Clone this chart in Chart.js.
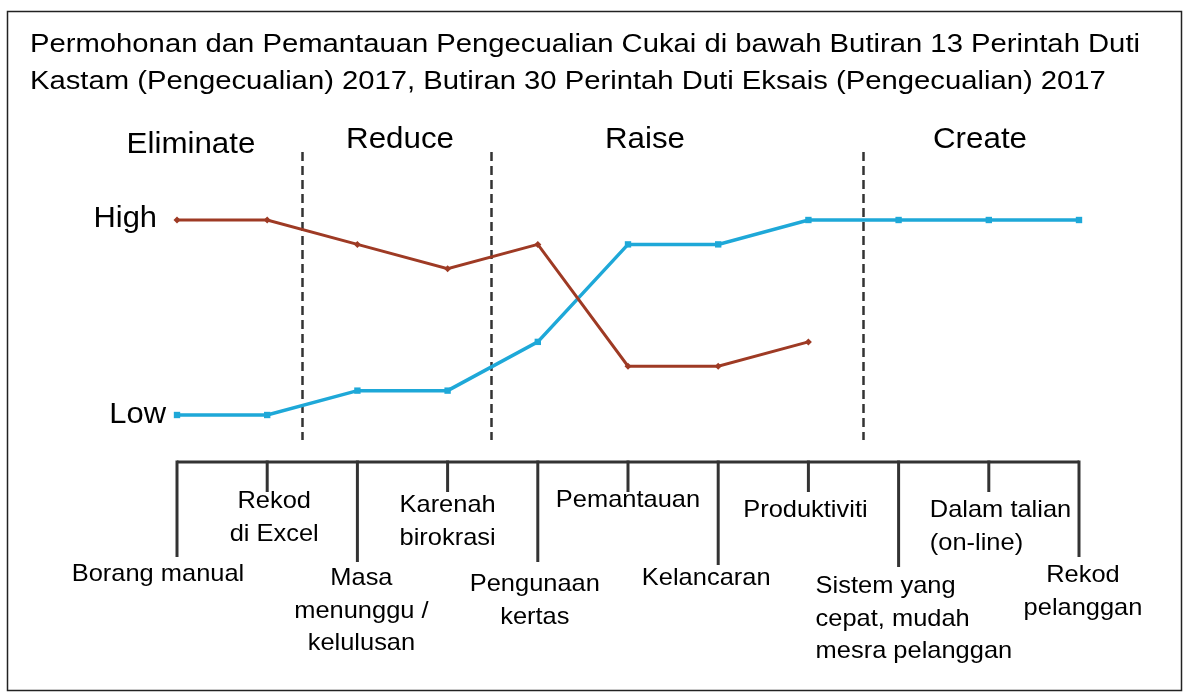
<!DOCTYPE html>
<html>
<head>
<meta charset="utf-8">
<style>
  html, body { margin: 0; padding: 0; background: #fff; }
  #wrap { position: relative; width: 1189px; height: 700px; }
  canvas { display: block; }
</style>
<script src="https://cdn.jsdelivr.net/npm/chart.js@4/dist/chart.umd.min.js"></script>
</head>
<body>
<div id="wrap"><canvas id="c" width="1189" height="700"></canvas></div>
<script>
const titleLines = [
  "Permohonan dan Pemantauan Pengecualian Cukai di bawah Butiran 13 Perintah Duti",
  "Kastam (Pengecualian) 2017, Butiran 30 Perintah Duti Eksais (Pengecualian) 2017"
];
const categories = [
  ["Borang manual"],
  ["Rekod", "di Excel"],
  ["Masa", "menunggu /", "kelulusan"],
  ["Karenah", "birokrasi"],
  ["Pengunaan", "kertas"],
  ["Pemantauan"],
  ["Kelancaran"],
  ["Produktiviti"],
  ["Sistem yang", "cepat, mudah", "mesra pelanggan"],
  ["Dalam talian", "(on-line)"],
  ["Rekod", "pelanggan"]
];
const blueValues = [0, 0, 1, 1, 3, 7, 7, 8, 8, 8, 8];
const redValues  = [8, 8, 7, 6, 7, 2, 2, 3, null, null, null];
const sectionNames = ["Eliminate", "Reduce", "Raise", "Create"];
const sectionDividers = [1.39, 3.48, 7.6];
const yTickLabels = ["Low", "High"];

const FONT = '"Liberation Sans", Arial, sans-serif';
const SX = 1.06;

function txt(ctx, s, x, y, align, sx) {
  ctx.save();
  ctx.translate(x, y);
  ctx.scale(sx, 1);
  ctx.textAlign = align;
  ctx.fillText(s, 0, 0);
  ctx.restore();
}

const overlay = {
  id: 'overlay',
  beforeDatasetsDraw(chart) {
    const ctx = chart.ctx;
    const x = chart.scales.x, y = chart.scales.y;
    const px = v => { const i = Math.floor(v); const f = v - i;
      const a = x.getPixelForValue(i); const b = x.getPixelForValue(Math.min(i + 1, categories.length - 1));
      return a + f * (b - a); };
    ctx.save();
    // border
    ctx.strokeStyle = '#222'; ctx.lineWidth = 1.5;
    ctx.strokeRect(7.5, 11.5, 1174, 679);
    // title
    ctx.fillStyle = '#000';
    ctx.textBaseline = 'alphabetic';
    ctx.font = '26.5px ' + FONT;
    const w1 = ctx.measureText(titleLines[0]).width;
    const tsx = 1110 / w1;
    txt(ctx, titleLines[0], 30, 52, 'left', tsx);
    txt(ctx, titleLines[1], 30, 89, 'left', tsx);
    // section labels
    ctx.font = '29px ' + FONT;
    const secX = [191, 400, 645, 980];
    const secY = [153, 148, 148, 148];
    sectionNames.forEach((s, i) => txt(ctx, s, secX[i], secY[i], 'center', 1.08));
    // y labels
    ctx.font = '30px ' + FONT;
    txt(ctx, yTickLabels[1], 157, y.getPixelForValue(8) + 7, 'right', 1.03);
    txt(ctx, yTickLabels[0], 166, y.getPixelForValue(0) + 8, 'right', 1.03);
    // dashed dividers
    ctx.strokeStyle = '#333'; ctx.lineWidth = 2.5; ctx.setLineDash([9, 5]);
    sectionDividers.forEach(d => {
      const xx = Math.round(px(d)) + 0.5;
      ctx.beginPath(); ctx.moveTo(xx, 152); ctx.lineTo(xx, 440); ctx.stroke();
    });
    ctx.setLineDash([]);
    // bottom bracket axis
    const axisY = 462;
    ctx.strokeStyle = '#333'; ctx.lineWidth = 3;
    ctx.beginPath();
    ctx.moveTo(x.getPixelForValue(0), axisY);
    ctx.lineTo(x.getPixelForValue(categories.length - 1), axisY);
    ctx.stroke();
    const longEnd = [557, 0, 562, 0, 562, 0, 565, 0, 567, 0, 557];
    categories.forEach((c, i) => {
      const xx = x.getPixelForValue(i);
      const end = (i % 2 === 0) ? longEnd[i] : 492;
      ctx.beginPath(); ctx.moveTo(xx, axisY - 1.5); ctx.lineTo(xx, end); ctx.stroke();
    });
    // category labels
    ctx.font = '24px ' + FONT;
    ctx.fillStyle = '#000';
    const lab = [
      {dx: -19, y: 581, a: 'center'},
      {dx: 7, y: 508, a: 'center'},
      {dx: 4, y: 585, a: 'center'},
      {dx: 0, y: 512, a: 'center'},
      {dx: -3, y: 591, a: 'center'},
      {dx: 0, y: 507, a: 'center'},
      {dx: -12, y: 585, a: 'center'},
      {dx: -3, y: 517, a: 'center'},
      {dx: -83, y: 593, a: 'left'},
      {dx: -59, y: 517, a: 'left'},
      {dx: 4, y: 582, a: 'center'}
    ];
    categories.forEach((c, i) => {
      const L = lab[i];
      c.forEach((line, k) => txt(ctx, line, x.getPixelForValue(i) + L.dx, L.y + k * 32.5, L.a, SX));
    });
    ctx.restore();
  }
};

new Chart(document.getElementById('c'), {
  type: 'line',
  data: {
    labels: categories.map(c => c.join(' ')),
    datasets: [
      {
        label: 'Red',
        data: redValues,
        borderColor: '#9e3a24',
        backgroundColor: '#9e3a24',
        borderWidth: 3,
        pointStyle: 'rectRot',
        pointRadius: 3.5,
        pointBorderWidth: 0,
        tension: 0,
        spanGaps: false,
        clip: false
      },
      {
        label: 'Blue',
        data: blueValues,
        borderColor: '#1ea8d8',
        backgroundColor: '#1ea8d8',
        borderWidth: 3.5,
        pointStyle: 'rect',
        pointRadius: 4.5,
        pointBorderWidth: 0,
        tension: 0,
        clip: false
      }
    ]
  },
  options: {
    responsive: false,
    animation: false,
    devicePixelRatio: 1,
    layout: { padding: { left: 177, right: 110, top: 220, bottom: 285 } },
    plugins: { legend: { display: false }, tooltip: { enabled: false }, title: { display: false } },
    scales: {
      x: { type: 'category', display: false, offset: false },
      y: { display: false, min: 0, max: 8 }
    }
  },
  plugins: [overlay]
});
</script>
</body>
</html>
